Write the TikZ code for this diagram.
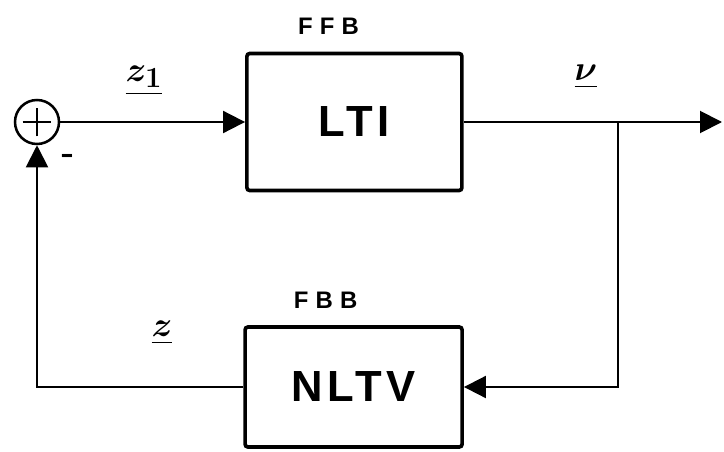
\documentclass[tikz,border=0pt]{standalone}
\usepackage{amsmath, amssymb}
\usepackage{fontspec}
\setsansfont{Liberation Sans}
\usetikzlibrary{arrows.meta, positioning}
\tikzset{
  block/.style={
    rectangle,
    rounded corners=2pt,
    draw=black,
    line width=2.6pt,
    align=center,
    font=\sffamily\bfseries\fontsize{31}{32}\selectfont\addfontfeature{LetterSpace=10}
  },
  sumjunction/.style={
    circle,
    draw=black,
    line width=1.8pt,
    minimum size=1.1cm,
    inner sep=0pt
  },
  tag/.style={
    font=\sffamily\bfseries\fontsize{17}{18}\selectfont\addfontfeature{LetterSpace=30}
  },
  signal/.style={
    font=\boldmath\fontsize{30}{32}\selectfont
  },
  arrow/.style={
    -{Triangle[length=5.5mm, width=5.5mm]},
    line width=1.4pt
  }
}
\begin{document}
\begin{tikzpicture}
    \useasboundingbox (0,0) rectangle (18.1,11.275);
    \node[sumjunction] (sum) at (0.925,8.225) {};
    \draw[line width=1.8pt] (sum.center) ++(-0.36,0) -- ++(0.72,0);
    \draw[line width=1.8pt] (sum.center) ++(0,-0.36) -- ++(0,0.72);
    \node[block, minimum width=5.375cm, minimum height=3.425cm] (lti) at (8.86,8.225) {LTI};
    \node[block, minimum width=5.425cm, minimum height=3.0cm] (nltv) at (8.84,1.6) {NLTV};
    \node[tag, above=0.3cm of lti, xshift=-0.65cm] (ffb) {FFB};
    \node[tag, above=0.3cm of nltv, xshift=-0.7cm] (fbb) {FBB};
    \coordinate (out) at (18.05,8.225);
    \coordinate (branch) at (15.45,8.225);
    \coordinate (fbturn) at (0.925,1.6);

    \draw[arrow] (sum) -- (lti);
    \draw[arrow] (lti) -- (out);
    \draw[arrow] (branch) |- (nltv);
    \draw[arrow] (nltv) -- (fbturn) -- (sum);

    \node[signal] (zone) at (3.6,9.25) {$\underline{z_1}$};
    \node[signal] (nu) at (14.65,9.35) {$\underline{\nu}$};
    \node[signal] (zfb) at (4.05,2.95) {$\underline{z}$};
    \node[font=\bfseries\fontsize{24}{24}\selectfont] (minus) at (1.7,7.3) {-};
\end{tikzpicture}
\end{document}
